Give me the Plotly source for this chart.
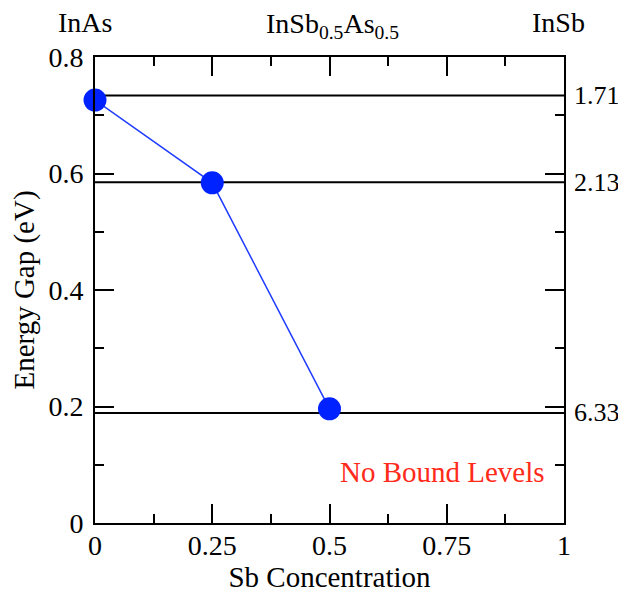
import plotly.graph_objects as go

# Data
sb_conc = [0.0, 0.25, 0.5]
energy_gap = [0.726, 0.584, 0.196]
level_energy = [0.734, 0.585, 0.189]
level_labels = ["1.71", "2.13", "6.33"]
top_pos = [0.0, 0.5, 1.0]
top_labels = ["InAs", "InSb<sub>0.5</sub>As<sub>0.5</sub>", "InSb"]
x_ticks = [0, 0.25, 0.5, 0.75, 1]
x_ticklabels = ["0", "0.25", "0.5", "0.75", "1"]
y_ticks = [0, 0.2, 0.4, 0.6, 0.8]
y_ticklabels = ["0", "0.2", "0.4", "0.6", "0.8"]

FONT = "Liberation Serif"
TICK_FS = 28
TITLE_FS = 29

fig = go.Figure()

for e in level_energy:
    fig.add_trace(go.Scatter(x=[0, 1], y=[e, e], mode="lines",
                             line=dict(color="black", width=2),
                             showlegend=False, hoverinfo="skip"))

fig.add_trace(go.Scatter(x=sb_conc, y=energy_gap, mode="lines+markers",
                         line=dict(color="#1f3cff", width=1.5),
                         marker=dict(color="#0022ff", size=23),
                         cliponaxis=False, showlegend=False))

for e, lab in zip(level_energy, level_labels):
    fig.add_annotation(x=1, y=e, xref="x", yref="y", text=lab, showarrow=False,
                       xanchor="left", xshift=8, font=dict(family=FONT, size=26, color="black"))

top_xshift = [-10, 3, -6]
top_yshift = [17, 12, 17]
for p, lab, xs, ys in zip(top_pos, top_labels, top_xshift, top_yshift):
    fig.add_annotation(x=p, y=1, xref="x", yref="paper", text=lab, showarrow=False,
                       yanchor="bottom", xshift=xs, yshift=ys,
                       font=dict(family=FONT, size=TICK_FS, color="black"))

fig.add_annotation(x=0.741, y=0.0876, xref="x", yref="y", text="No Bound Levels",
                   showarrow=False, font=dict(family=FONT, size=29, color="#ff2a1a"))

axis_common = dict(showgrid=False, zeroline=False, showline=True, linecolor="black",
                   linewidth=2, mirror="allticks", ticks="inside", ticklen=19,
                   tickwidth=2, tickcolor="black",
                   tickfont=dict(family=FONT, size=TICK_FS, color="black"))

fig.update_xaxes(range=[0, 1], tickvals=x_ticks, ticktext=x_ticklabels,
                 ticklabelstandoff=-4,
                 minor=dict(ticks="inside", ticklen=9, tickwidth=2, tickcolor="black", dtick=0.125),
                 title=dict(text="Sb Concentration", font=dict(family=FONT, size=TITLE_FS, color="black"), standoff=5),
                 **axis_common)
fig.update_yaxes(range=[0, 0.8], tickvals=y_ticks, ticktext=y_ticklabels,
                 ticklabelstandoff=4,
                 minor=dict(ticks="inside", ticklen=9, tickwidth=2, tickcolor="black", dtick=0.1),
                 title=dict(text="Energy Gap (eV)", font=dict(family=FONT, size=TITLE_FS, color="black"), standoff=5),
                 **axis_common)

fig.update_layout(width=626, height=592, plot_bgcolor="white", paper_bgcolor="white",
                  margin=dict(l=87, r=70, t=49, b=77), showlegend=False)

fig.write_html("out.html")
